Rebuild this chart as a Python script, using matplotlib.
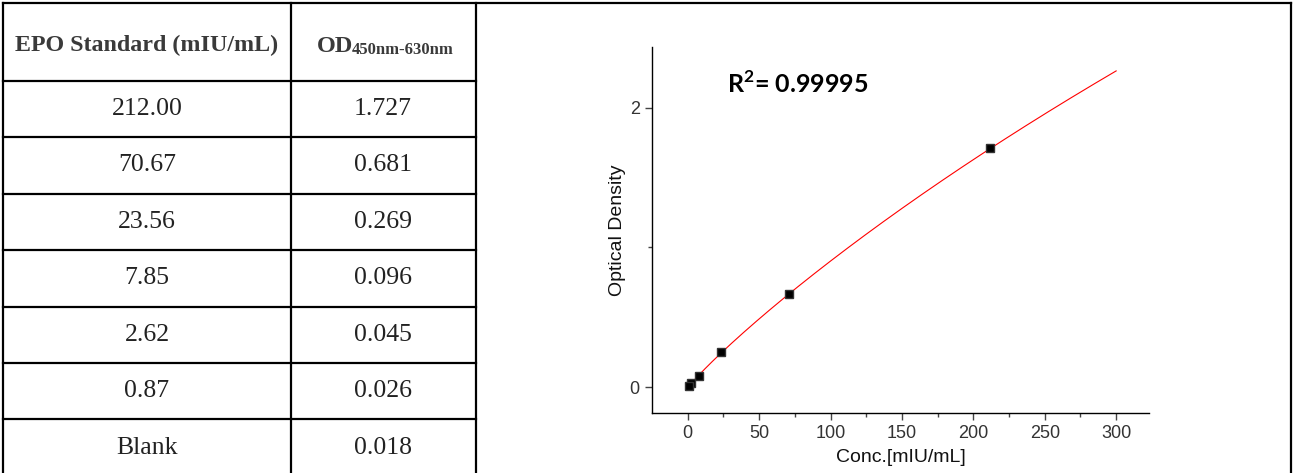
import numpy as np
import matplotlib
matplotlib.use("Agg")
import matplotlib.pyplot as plt
from matplotlib.ticker import MultipleLocator

# ---- data ----
std_labels = ["212.00", "70.67", "23.56", "7.85", "2.62", "0.87", "Blank"]
od_labels = ["1.727", "0.681", "0.269", "0.096", "0.045", "0.026", "0.018"]
conc = np.array([212.00, 70.67, 23.56, 7.85, 2.62, 0.87])
od = np.array([1.727, 0.681, 0.269, 0.096, 0.045, 0.026])
blank = 0.018
r2_text = r"R$^{\mathbf{2}}$= 0.99995"
header_std = "EPO Standard (mIU/mL)"
header_od = "OD"
header_od_sub = "450nm-630nm"

od_corr = od - blank

plt.rcParams["mathtext.fontset"] = "custom"
plt.rcParams["mathtext.rm"] = "Lato:bold"
plt.rcParams["mathtext.bf"] = "Lato:bold"

# ---- 4PL fit (Levenberg-Marquardt in numpy) ----
def f4(p, x):
    a, b, lc, ld = p
    c, d = np.exp(lc), np.exp(ld)
    return d + (a - d) / (1.0 + (x / c) ** b)

p = np.array([0.0, 1.0, np.log(500.0), np.log(5.0)])
lam = 1e-2
def sse(p):
    r = od_corr - f4(p, conc)
    return np.sum(r * r)
cur = sse(p)
for _ in range(2000):
    r = od_corr - f4(p, conc)
    J = np.zeros((len(conc), 4))
    for k in range(4):
        dp = np.zeros(4); h = 1e-6 * max(1.0, abs(p[k])); dp[k] = h
        J[:, k] = (f4(p + dp, conc) - f4(p - dp, conc)) / (2 * h)
    A = J.T @ J
    g = J.T @ r
    step = np.linalg.solve(A + lam * np.diag(np.diag(A) + 1e-12), g)
    pn = p + step
    new = sse(pn) if np.all(np.isfinite(f4(pn, conc))) else np.inf
    if new < cur:
        p, cur = pn, new
        lam *= 0.3
    else:
        lam *= 5
    if lam > 1e12:
        break

xfit = np.linspace(0, 300, 400)
yfit = f4(p, xfit)

# ---- figure ----
W, H = 1293, 473
fig = plt.figure(figsize=(W / 100, H / 100), dpi=100)

bg = fig.add_axes([0, 0, 1, 1])
bg.set_xlim(0, W)
bg.set_ylim(H, 0)
bg.axis("off")

lw = 1.6
bg.plot([3, 1291], [3, 3], color="black", lw=lw, solid_capstyle="projecting")
bg.plot([3, 3], [3, H + 5], color="black", lw=lw)
bg.plot([1291, 1291], [3, H + 5], color="black", lw=lw)
bg.plot([476, 476], [3, H + 5], color="black", lw=lw)
bg.plot([291, 291], [3, H + 5], color="black", lw=lw)
row_lines = [80.7 + 56.45 * i for i in range(7)]
for yl in row_lines:
    bg.plot([3, 476], [yl, yl], color="black", lw=lw)

serif = "Liberation Serif"
hdr_color = "#3a3a3a"
bg.text(147, 51.5, header_std, ha="center", va="baseline",
        family=serif, fontweight="bold", fontsize=17.3, color=hdr_color)
bg.text(317, 51.7, header_od, ha="left", va="baseline",
        family=serif, fontweight="bold", fontsize=17.5, color=hdr_color)
bg.text(352, 53.5, header_od_sub, ha="left", va="baseline",
        family=serif, fontweight="bold", fontsize=12, color=hdr_color)

for i, (s, o) in enumerate(zip(std_labels, od_labels)):
    yc = 80.7 + 56.45 * (i + 0.5)
    bg.text(147, yc, s, ha="center", va="center", family=serif,
            fontsize=18.5, color="#222222")
    bg.text(383, yc, o, ha="center", va="center", family=serif,
            fontsize=18.5, color="#222222")

# ---- plot axes ----
ax = fig.add_axes([652.3 / W, 1 - 412.7 / H, (1149 - 652.3) / W, (412.7 - 47) / H])
ax.plot(xfit, yfit, color="red", lw=0.8, zorder=2)
ax.plot(conc, od_corr, linestyle="none", marker="s", markersize=5.5,
        markerfacecolor="black", markeredgecolor="#333333", zorder=3)
ax.set_xlim(-24.8, 323)
ax.set_ylim(-0.184, 2.435)
for s in ["top", "right"]:
    ax.spines[s].set_visible(False)
for s in ["left", "bottom"]:
    ax.spines[s].set_linewidth(1.0)
ax.xaxis.set_major_locator(MultipleLocator(50))
ax.xaxis.set_minor_locator(MultipleLocator(25))
ax.yaxis.set_major_locator(MultipleLocator(2))
ax.yaxis.set_minor_locator(MultipleLocator(1))
ax.tick_params(which="major", length=5, width=1.0, color="#444444",
               labelsize=13, labelcolor="#333333", pad=4)
ax.tick_params(which="minor", length=3, width=1.0, color="#444444")
for t in ax.get_xticklabels() + ax.get_yticklabels():
    t.set_family("Liberation Sans")
ax.set_xlabel("Conc.[mIU/mL]", family="Liberation Sans", fontsize=14,
              color="#111111", labelpad=5)
ax.set_ylabel("Optical Density", family="Liberation Sans", fontsize=14,
              color="#111111", labelpad=3)
ax.text(727, 93, r2_text, transform=bg.transData, ha="left", va="baseline",
        family="Lato", fontweight="bold", fontsize=18, color="black")

fig.savefig("out.png", dpi=100)
